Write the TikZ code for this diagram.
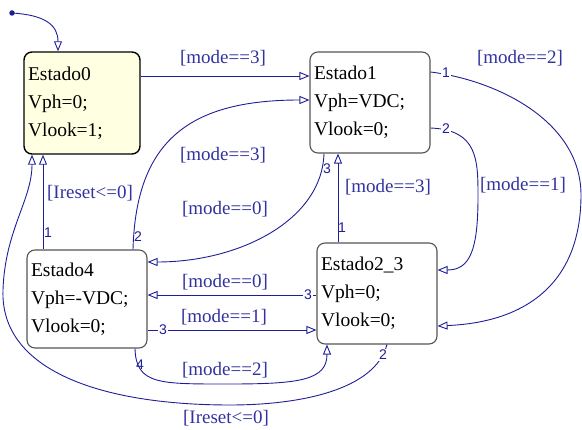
\documentclass[tikz,border=0pt]{standalone}
\usepackage{fontspec}
\setmainfont{Liberation Serif}
\newfontfamily\portfont{Liberation Sans}
\usetikzlibrary{arrows.meta}
\definecolor{wire}{RGB}{30,30,150}
\definecolor{lbl}{RGB}{50,50,160}
\definecolor{boxfill}{RGB}{255,255,225}
\definecolor{boxline}{RGB}{85,85,85}
\begin{document}
\begin{tikzpicture}[x=1pt,y=-1pt,
  state/.style={rounded corners=8pt, draw=boxline, line width=1.1pt, fill=white, align=left, inner xsep=4pt, inner ysep=0pt, font=\fontsize{19.5}{28}\selectfont},
  wire/.style={draw=wire, line width=0.9pt},
  tip/.style={-{Triangle[open,length=10pt,width=8pt]}},
  glabel/.style={text=lbl, font=\fontsize{19}{22}\selectfont, inner sep=0pt},
  port/.style={text=wire, font=\portfont\fontsize{14}{14}\selectfont, inner sep=0.8pt},
  onwire/.style={port, fill=white}
]
\useasboundingbox (0,0) rectangle (582,430);

\node[state, fill=boxfill, draw=black, line width=1.4pt, minimum width=116pt, minimum height=102pt, text width=108pt] (s0) at (82,103) {Estado0\\Vph=0;\\Vlook=1;};
\node[state, minimum width=120pt, minimum height=101pt, text width=112pt] (s1) at (370,102.5) {Estado1\\Vph=VDC;\\Vlook=0;};
\node[state, minimum width=120pt, minimum height=98pt, text width=112pt] (s4) at (87,299) {Estado4\\Vph=-VDC;\\Vlook=0;};
\node[state, minimum width=120pt, minimum height=101pt, text width=112pt] (s23) at (377,293.5) {Estado2\_3\\Vph=0;\\Vlook=0;};

\node[circle, fill=wire, inner sep=0pt, minimum size=5.5pt] (init) at (12,13) {};
\draw[wire,tip] (init.center) .. controls (45,15) and (58,25) .. (s0.north -| 58,0);

% Estado0 -> Estado1
\draw[wire,tip] (s0.east |- 0,76) -- (s1.west |- 0,76);
% Estado4 -> Estado1
\draw[wire,tip] (s4.north -| 133,0) .. controls (136,140) and (190,100) .. (s1.west |- 0,100);
% Estado1 -> Estado4
\draw[wire,tip] (s1.south -| 324,0) .. controls (322,220) and (240,262) .. (s4.east |- 0,262);
% Estado4 -> Estado0
\draw[wire,tip] (s4.north -| 43,0) -- (s0.south -| 43,0);
% Estado2_3 -> Estado1
\draw[wire,tip] (s23.north -| 338,0) -- (s1.south -| 338,0);
% Estado1 -> Estado2_3 (mode==2)
\draw[wire,tip] (s1.east |- 0,72) .. controls (495,80) and (581,120) .. (581,195) .. controls (581,280) and (530,322) .. (s23.east |- 0,326);
% Estado1 -> Estado2_3 (mode==1)
\draw[wire,tip] (s1.east |- 0,128) .. controls (478,130) and (478,160) .. (478,197) .. controls (478,250) and (470,270) .. (s23.east |- 0,270);
% Estado2_3 -> Estado4
\draw[wire,tip] (s23.west |- 0,295) -- (s4.east |- 0,295);
% Estado4 -> Estado2_3 (mode==1)
\draw[wire,tip] (s4.east |- 0,330) -- (s23.west |- 0,330);
% Estado4 -> Estado2_3 (mode==2)
\draw[wire,tip] (s4.south -| 135,0) .. controls (136,385) and (160,384) .. (230,384) .. controls (300,384) and (327,380) .. (s23.south -| 327,0);
% Estado2_3 -> Estado0
\draw[wire,tip] (s23.south -| 387,0) .. controls (375,390) and (300,405) .. (230,405) .. controls (100,405) and (0,370) .. (3,290) .. controls (5,230) and (32,200) .. (s0.south -| 32,0);

% port numbers
\node[port] (p1) at (138,237) {2};
\node[port] (p2) at (327,169) {3};
\node[port] (p3) at (48,233) {1};
\node[port] (p4) at (342,228) {1};
\node[onwire] (p5) at (446,73) {1};
\node[onwire] (p6) at (446,129) {2};
\node[onwire] (p7) at (308,295) {3};
\node[onwire] (p8) at (163,330) {3};
\node[port] (p9) at (140,365) {4};
\node[onwire] (p10) at (383,355) {2};

% guard labels
\node[glabel] (g1) at (223,58) {[mode==3]};
\node[glabel] (g2) at (223,155) {[mode==3]};
\node[glabel] (g3) at (225,209) {[mode==0]};
\node[glabel] (g4) at (90,193) {[Ireset<=0]};
\node[glabel] (g5) at (520,58) {[mode==2]};
\node[glabel] (g6) at (388,187) {[mode==3]};
\node[glabel] (g7) at (523,185) {[mode==1]};
\node[glabel] (g8) at (225,282) {[mode==0]};
\node[glabel] (g9) at (224,317) {[mode==1]};
\node[glabel] (g10) at (225,370) {[mode==2]};
\node[glabel] (g11) at (226,418) {[Ireset<=0]};
\end{tikzpicture}
\end{document}
